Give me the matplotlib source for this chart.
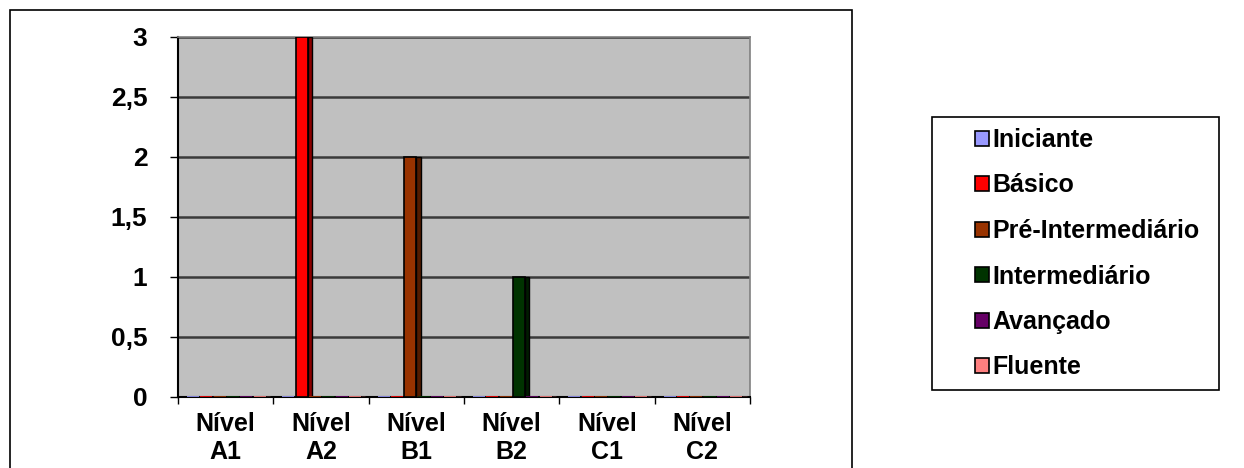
import numpy as np
import matplotlib.pyplot as plt
from matplotlib.patches import Patch, Rectangle
from matplotlib.colors import to_rgb

plt.rcParams['font.family'] = ['Liberation Sans', 'DejaVu Sans']
plt.rcParams['font.weight'] = 'bold'

categories = ['Nível\nA1', 'Nível\nA2', 'Nível\nB1', 'Nível\nB2', 'Nível\nC1', 'Nível\nC2']
series = ['Iniciante', 'Básico', 'Pré-Intermediário', 'Intermediário', 'Avançado', 'Fluente']
colors = ['#9999FF', '#FF0000', '#993300', '#003300', '#660066', '#FF8080']

iniciante = [0, 0, 0, 0, 0, 0]
basico = [0, 3, 0, 0, 0, 0]
pre_intermediario = [0, 0, 2, 0, 0, 0]
intermediario = [0, 0, 0, 1, 0, 0]
avancado = [0, 0, 0, 0, 0, 0]
fluente = [0, 0, 0, 0, 0, 0]
values = [iniciante, basico, pre_intermediario, intermediario, avancado, fluente]

yticks = [0, 0.5, 1, 1.5, 2, 2.5, 3]
ytick_labels = ['0', '0,5', '1', '1,5', '2', '2,5', '3']

W, H = 1244, 468
fig = plt.figure(figsize=(W / 100, H / 100), dpi=100)

# outer chart border (bottom edge runs off the image)
fig.patches.append(Rectangle((10 / W, -0.02), 842 / W, 1 - 10 / H + 0.02,
                             transform=fig.transFigure, fill=False,
                             edgecolor='black', linewidth=1.2))
# legend border
fig.patches.append(Rectangle((932 / W, 1 - 390 / H), 287 / W, 273 / H,
                             transform=fig.transFigure, fill=False,
                             edgecolor='black', linewidth=1.2))

ax = fig.add_axes([178 / W, 1 - 397 / H, 572 / W, 360 / H])
ax.set_facecolor('#C0C0C0')

x = np.arange(len(categories))
slot = 0.14
face_w = 0.125
side_w = 0.045
start = -0.5 + 0.095
for i, (name, vals, col) in enumerate(zip(series, values, colors)):
    dark = tuple(c * 0.55 for c in to_rgb(col))
    left = x + start + i * slot
    edges = ['black' if v > 0 else col for v in vals]
    ax.bar(left, vals, width=face_w, align='edge', color=col,
           edgecolor=edges, linewidth=1.2, zorder=3)
    ax.bar(left + face_w, vals, width=side_w, align='edge', color=dark,
           edgecolor=edges, linewidth=1.0, zorder=3)

ax.set_xlim(-0.5, len(categories) - 0.5)
ax.set_ylim(0, 3)
ax.set_yticks(yticks)
ax.set_yticklabels(ytick_labels, fontsize=19, fontweight='bold')
ax.set_xticks(x)
ax.set_xticklabels(categories, fontsize=18, fontweight='bold', linespacing=1.2)
ax.set_xticks(np.arange(len(categories) + 1) - 0.5, minor=True)
ax.tick_params(axis='x', which='major', length=0, pad=11)
ax.tick_params(axis='x', which='minor', length=5, width=1, direction='out')
ax.tick_params(axis='y', length=6, width=1, pad=16)

ax.yaxis.grid(True, color='#3A3A3A', linewidth=1.8, zorder=1)
ax.set_axisbelow(True)
for s in ['top', 'right']:
    ax.spines[s].set_color('#808080')
    ax.spines[s].set_linewidth(1.2)
ax.spines['left'].set_linewidth(1.5)
ax.spines['bottom'].set_linewidth(1.5)

handles = [Patch(facecolor=c, edgecolor='black', linewidth=1.2) for c in colors]
fig.legend(handles, series, loc='upper left',
           bbox_to_anchor=(975 / W, 1 - 128 / H), bbox_transform=fig.transFigure,
           prop={'size': 18, 'weight': 'bold'}, frameon=False,
           handlelength=0.56, handleheight=0.56, handletextpad=0.15,
           labelspacing=0.86, borderpad=0, borderaxespad=0)

fig.savefig('out.png', dpi=100)
